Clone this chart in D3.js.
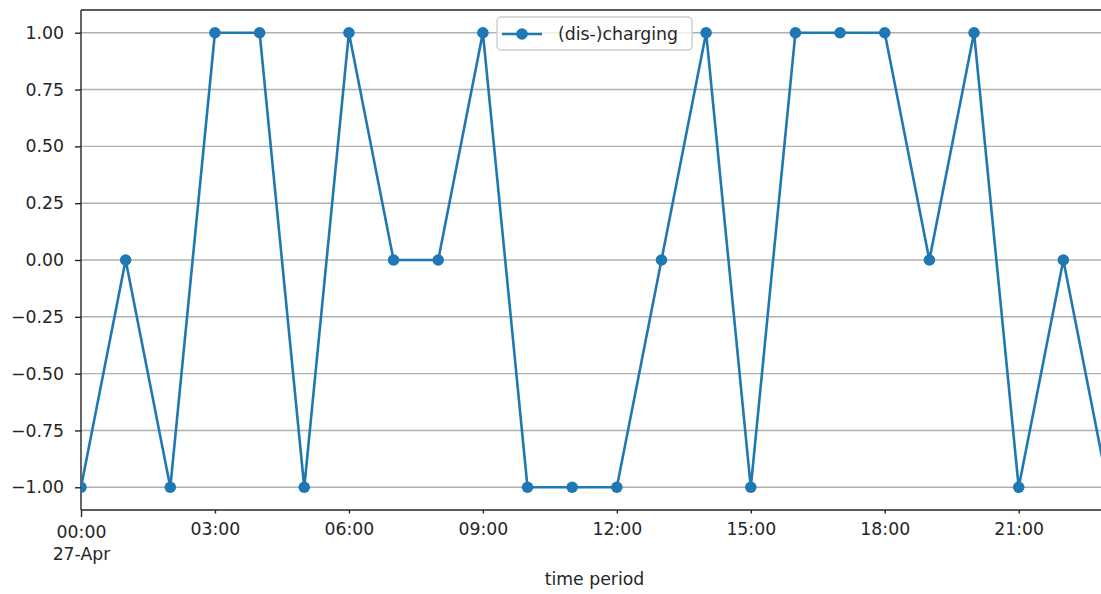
<!DOCTYPE html>
<html>
<head>
<meta charset="utf-8">
<script src="https://cdn.jsdelivr.net/npm/d3@7"></script>
<style>
  html, body { margin: 0; padding: 0; background: #fff; }
  svg { display: block; }
  svg text { font-family: "DejaVu Sans", sans-serif; }
</style>
</head>
<body>
<svg id="chart" width="1101" height="594"></svg>
<script>
// Hourly (dis-)charging decision for one day
const hours = ["00:00","01:00","02:00","03:00","04:00","05:00","06:00","07:00",
               "08:00","09:00","10:00","11:00","12:00","13:00","14:00","15:00",
               "16:00","17:00","18:00","19:00","20:00","21:00","22:00","23:00"];
const charging = [-1, 0, -1, 1, 1, -1, 1, 0, 0, 1, -1, -1, -1, 0, 1, -1, 1, 1, 1, 0, 1, -1, 0, -1];
const yTicks = [-1.0, -0.75, -0.5, -0.25, 0.0, 0.25, 0.5, 0.75, 1.0];
const xTickHours = [0, 3, 6, 9, 12, 15, 18, 21];
const dayLabel = "27-Apr";
const seriesName = "(dis-)charging";
const xTitle = "time period";

const parse = d3.timeParse("%Y-%m-%d %H:%M");
const times = hours.map(h => parse("2021-04-27 " + h));
const data = times.map((t, i) => ({ t, v: charging[i] }));

const color = "#1f77b4";
const ink = "#262626";
const fs = 17.3;
const svg = d3.select("#chart");
const m = { left: 81, right: 1108, top: 10, bottom: 510 };

const x = d3.scaleTime().domain(d3.extent(times)).range([m.left, m.right]);
const y = d3.scaleLinear().domain([-1.1, 1.1]).range([m.bottom, m.top]);

// horizontal grid
svg.append("g").selectAll("line").data(yTicks).join("line")
  .attr("x1", m.left).attr("x2", m.right)
  .attr("y1", d => y(d)).attr("y2", d => y(d))
  .attr("stroke", "#b0b0b0").attr("stroke-width", 1.4);

// y axis
const yAxis = svg.append("g").attr("transform", `translate(${m.left},0)`)
  .call(d3.axisLeft(y).tickValues(yTicks).tickFormat(d3.format(".2f")).tickSize(6).tickPadding(11));
yAxis.attr("font-family", null);
yAxis.select(".domain").remove();
yAxis.selectAll(".tick line").attr("stroke", ink).attr("stroke-width", 1.4);
yAxis.selectAll(".tick text").attr("font-size", fs).attr("fill", ink)
  .text(d => d3.format(".2f")(d).replace("-", "\u2212"));

// x axis: day tick is a major tick, the 3-hourly ones are minor
const xTicks = xTickHours.map(h => times[h]);
const xAxis = svg.append("g").attr("transform", `translate(0,${m.bottom})`)
  .call(d3.axisBottom(x).tickValues(xTicks).tickFormat(d3.timeFormat("%H:%M")).tickSizeOuter(0));
xAxis.attr("font-family", null);
xAxis.select(".domain").remove();
xAxis.selectAll(".tick line")
  .attr("stroke", ink).attr("stroke-width", 1.4)
  .attr("y2", (d, i) => i === 0 ? 7 : 3.5);
xAxis.selectAll(".tick text").attr("font-size", fs).attr("fill", ink)
  .attr("dy", null).attr("y", (d, i) => i === 0 ? 28 : 25);
xAxis.selectAll(".tick").filter((d, i) => i === 0).select("text")
  .append("tspan").attr("x", 0).attr("dy", 22).text(dayLabel);

// spines
svg.append("line").attr("x1", m.left).attr("x2", m.left).attr("y1", m.top).attr("y2", m.bottom)
  .attr("stroke", ink).attr("stroke-width", 1.4);
svg.append("line").attr("x1", m.left).attr("x2", m.right).attr("y1", m.bottom).attr("y2", m.bottom)
  .attr("stroke", ink).attr("stroke-width", 1.4);
svg.append("line").attr("x1", m.left).attr("x2", m.right).attr("y1", m.top).attr("y2", m.top)
  .attr("stroke", ink).attr("stroke-width", 1.4);

// x title
svg.append("text").attr("x", (m.left + m.right) / 2).attr("y", 585)
  .attr("text-anchor", "middle").attr("font-size", fs).attr("fill", ink).text(xTitle);

// series
svg.append("clipPath").attr("id", "plotclip").append("rect")
  .attr("x", m.left).attr("y", m.top).attr("width", m.right - m.left).attr("height", m.bottom - m.top);
const plot = svg.append("g").attr("clip-path", "url(#plotclip)");
plot.append("path").datum(data)
  .attr("fill", "none").attr("stroke", color).attr("stroke-width", 2.6)
  .attr("stroke-linejoin", "round")
  .attr("d", d3.line().x(d => x(d.t)).y(d => y(d.v)));
plot.selectAll("circle").data(data).join("circle")
  .attr("cx", d => x(d.t)).attr("cy", d => y(d.v)).attr("r", 5.8).attr("fill", color);

// legend
const lg = svg.append("g").attr("transform", "translate(497,17)");
lg.append("rect").attr("width", 195).attr("height", 33).attr("rx", 4)
  .attr("fill", "#fff").attr("fill-opacity", 0.8).attr("stroke", "#cccccc").attr("stroke-width", 1.4);
lg.append("line").attr("x1", 5).attr("x2", 45).attr("y1", 17).attr("y2", 17)
  .attr("stroke", color).attr("stroke-width", 2.6);
lg.append("circle").attr("cx", 25).attr("cy", 17).attr("r", 5.8).attr("fill", color);
lg.append("text").attr("x", 61).attr("y", 23).attr("font-size", fs).attr("fill", ink).text(seriesName);
</script>
</body>
</html>
